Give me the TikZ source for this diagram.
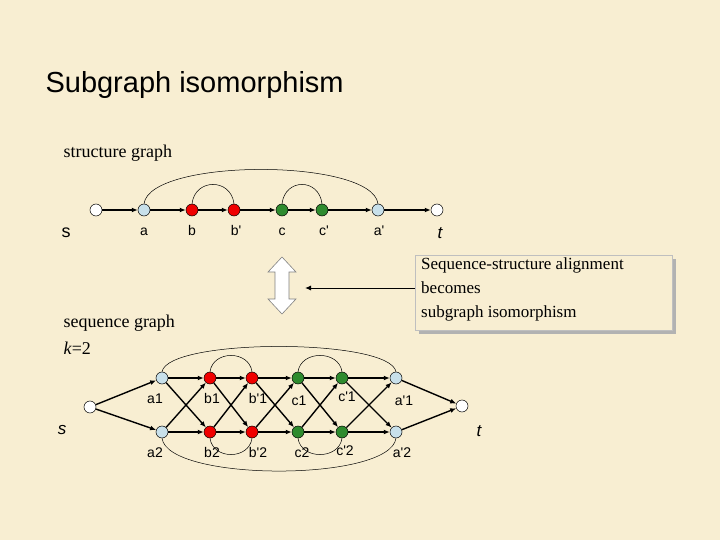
\documentclass[tikz,border=0pt]{standalone}
\usepackage{fontspec}
\setmainfont{Liberation Serif}
\newfontfamily\arial{Liberation Sans}
\usetikzlibrary{arrows.meta}
\definecolor{bg}{HTML}{F8EED2}
\definecolor{lb}{HTML}{C8E0EA}
\definecolor{rd}{HTML}{F00000}
\definecolor{gr}{HTML}{2E8B2E}
\begin{document}
\begin{tikzpicture}[x=1pt,y=-1pt,
  vt/.style={circle,draw=black,inner sep=0pt,minimum size=12pt,line width=0.5pt},
  wt/.style={vt,fill=white},
  bl/.style={vt,fill=lb},
  rv/.style={vt,fill=rd},
  gv/.style={vt,fill=gr},
  ed/.style={-{Latex[length=6pt,width=5pt]},line width=1.4pt},
  arc/.style={line width=0.5pt},
  lab/.style={anchor=base,inner sep=0pt,font=\arial\fontsize{14}{14}\selectfont},
  big/.style={anchor=base,inner sep=0pt,font=\arial\itshape\fontsize{17}{17}\selectfont}]
\fill[bg] (0,0) rectangle (720,540);
\useasboundingbox (0,0) rectangle (720,540);
\node[anchor=west,font=\arial\fontsize{29}{29}\selectfont] (title) at (42,85) {Subgraph isomorphism};
\node[anchor=west,font=\fontsize{18}{18}\selectfont] (sg) at (60,153) {structure graph};
% top graph
\node[wt] (s) at (96,210) {};
\node[bl] (a) at (144,210) {};
\node[rv] (b) at (192,210) {};
\node[rv] (bp) at (234,210) {};
\node[gv] (c) at (282,210) {};
\node[gv] (cp) at (322,210) {};
\node[bl] (ap) at (378,210) {};
\node[wt] (t) at (437,210) {};
\foreach \u/\v in {s/a,a/b,b/bp,bp/c,c/cp,cp/ap,ap/t} \draw[ed] (\u) -- (\v);
\draw[arc] (a.north) .. controls (150,158) and (372,158) .. (ap.north);
\draw[arc] (b.north) .. controls (195,178) and (231,178) .. (bp.north);
\draw[arc] (c.north) .. controls (285,178) and (319,178) .. (cp.north);
\node[anchor=base,inner sep=0pt,font=\arial\fontsize{18}{18}\selectfont] (sl) at (66,237) {s};
\node[lab] (al) at (144,236) {a};
\node[lab] (bll) at (192,236) {b};
\node[lab] (bpl) at (236,236) {b'};
\node[lab] (cl) at (282,236) {c};
\node[lab] (cpl) at (324,236) {c'};
\node[lab] (apl) at (379,236) {a'};
\node[big] (tl) at (440,238) {t};
% double arrow
\draw[gray,fill=white,line width=0.6pt] (282,257) -- (296,272) -- (289,272) -- (289,299) -- (296,299) -- (282,314) -- (268,299) -- (275,299) -- (275,272) -- (268,272) -- cycle;
% callout
\fill[gray!60] (419,259) rectangle (676,334);
\node[draw=gray!50,fill=bg,anchor=north west,minimum width=257pt,minimum height=75pt,inner sep=0pt] (box) at (415,255) {};
\node[anchor=north west,align=left,font=\fontsize{17}{24}\selectfont,inner sep=0pt] (boxt) at (421,258) {Sequence-structure alignment\\becomes\\subgraph isomorphism};
\coordinate (arrend) at (305,288);
\draw[-{Latex[length=6pt,width=5pt]},line width=1pt] (box.west |- arrend) -- (arrend);
\node[anchor=west,font=\fontsize{18}{18}\selectfont] (seq) at (60,323) {sequence graph};
\node[anchor=west,font=\fontsize{18}{18}\selectfont] (k) at (60,348) {\textit{k}=2};
% bottom graph
\node[wt] (S) at (90,407) {};
\node[wt] (T) at (462,406) {};
\foreach \n/\x/\st in {a/162/bl,b/210/rv,bp/252/rv,c/298/gv,cp/342/gv,ap/396/bl} {
  \node[\st] (\n1) at (\x,378) {};
  \node[\st] (\n2) at (\x,432) {};
}
\draw[ed] (S) -- (a1); \draw[ed] (S) -- (a2);
\draw[ed] (ap1) -- (T); \draw[ed] (ap2) -- (T);
\foreach \u/\v in {a/b,b/bp,bp/c,c/cp,cp/ap} {
  \draw[ed] (\u1) -- (\v1); \draw[ed] (\u2) -- (\v2);
  \draw[ed] (\u1) -- (\v2); \draw[ed] (\u2) -- (\v1);
}
\draw[arc] (a1.north) .. controls (168,338) and (390,338) .. (ap1.north);
\draw[arc] (b1.north) .. controls (213,350) and (249,350) .. (bp1.north);
\draw[arc] (c1.north) .. controls (301,350) and (339,350) .. (cp1.north);
\draw[arc] (a2.south) .. controls (168,482) and (390,482) .. (ap2.south);
\draw[arc] (b2.south) .. controls (213,460) and (249,460) .. (bp2.south);
\draw[arc] (c2.south) .. controls (301,460) and (339,460) .. (cp2.south);
\node[big] (Sl) at (62,434) {s};
\node[big] (Tl) at (479,436) {t};
\node[lab] (l1) at (155,403) {a1};
\node[lab] (l2) at (212,403) {b1};
\node[lab] (l3) at (258,403) {b'1};
\node[lab] (l4) at (299,405) {c1};
\node[lab] (l5) at (347,401) {c'1};
\node[lab] (l6) at (404,405) {a'1};
\node[lab] (m1) at (155,457) {a2};
\node[lab] (m2) at (212,457) {b2};
\node[lab] (m3) at (258,457) {b'2};
\node[lab] (m4) at (302,457) {c2};
\node[lab] (m5) at (345,455) {c'2};
\node[lab] (m6) at (402,457) {a'2};
\end{tikzpicture}
\end{document}
